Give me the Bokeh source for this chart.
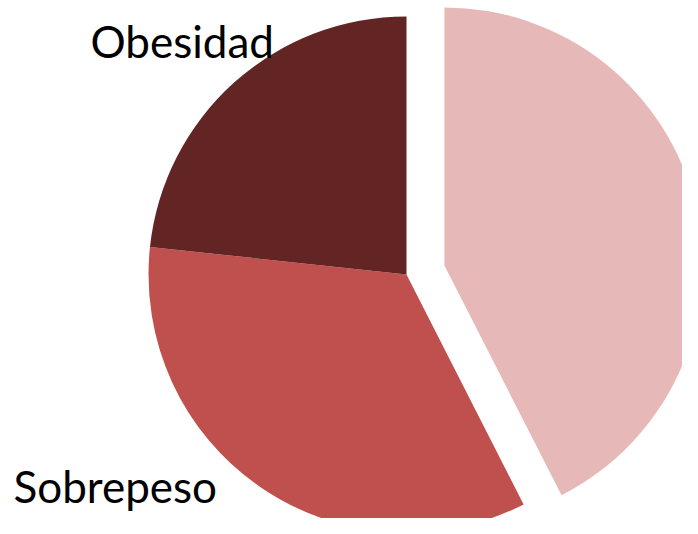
import math
from bokeh.plotting import figure
from bokeh.models import Range1d, ColumnDataSource
from bokeh.core.properties import value
from bokeh.embed import file_html
from bokeh.resources import INLINE

# Data (clockwise from 12 o'clock)
categories = ["Normal", "Sobrepeso", "Obesidad"]
values = [42.5, 34.2, 23.3]
colors = ["#E6B9B8", "#C0504D", "#632523"]
explode = [39, 0, 0]
show_label = [False, True, True]

W, H = 682, 518
p = figure(width=W, height=H, output_backend="svg", toolbar_location=None,
           x_range=Range1d(0, W), y_range=Range1d(0, H), min_border=0)
p.axis.visible = False
p.grid.visible = False
p.outline_line_color = None
p.background_fill_color = "white"
p.border_fill_color = "white"

cx, cy, r = 406, H - 274, 258
total = sum(values)
cum = 0.0
xs, ys, starts, ends, cols = [], [], [], [], []
for v, c, e in zip(values, colors, explode):
    a_end = math.radians(90 - cum / total * 360)
    cum += v
    a_start = math.radians(90 - cum / total * 360)
    mid = (a_start + a_end) / 2
    xs.append(cx + e * math.cos(mid))
    ys.append(cy + e * math.sin(mid))
    starts.append(a_start)
    ends.append(a_end)
    cols.append(c)

src = ColumnDataSource(dict(x=xs, y=ys, start=starts, end=ends, color=cols))
p.wedge(x="x", y="y", radius=r, start_angle="start", end_angle="end",
        direction="anticlock", fill_color="color", line_color=None, source=src)

# Labels
label_pos = {"Sobrepeso": (13, H - 485), "Obesidad": (90, H - 40)}
lx, ly, lt = [], [], []
for cat, s in zip(categories, show_label):
    if s:
        lx.append(label_pos[cat][0]); ly.append(label_pos[cat][1]); lt.append(cat)
p.text(x=lx, y=ly, text=lt, text_font=value("Lato"), text_font_size="44px",
       text_color="black", text_align="left", text_baseline="alphabetic")

open("out.html", "w").write(file_html(p, INLINE))
